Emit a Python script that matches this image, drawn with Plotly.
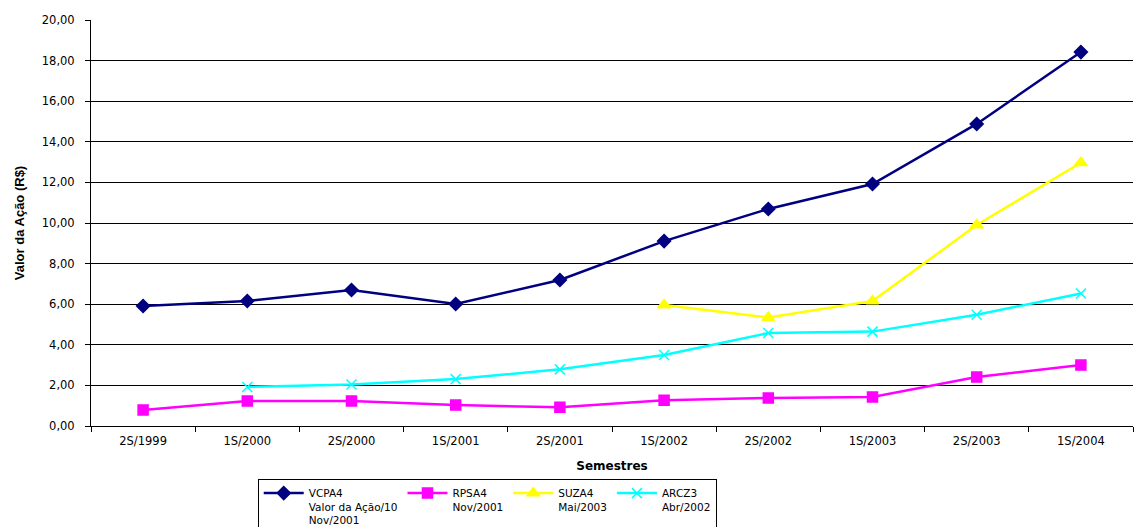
import plotly.graph_objects as go

semestres = ["2S/1999", "1S/2000", "2S/2000", "1S/2001", "2S/2001",
             "1S/2002", "2S/2002", "1S/2003", "2S/2003", "1S/2004"]

vcpa4 = [5.91, 6.16, 6.70, 6.01, 7.19, 9.11, 10.69, 11.92, 14.88, 18.42]
rpsa4 = [0.79, 1.23, 1.23, 1.03, 0.92, 1.27, 1.38, 1.43, 2.41, 3.00]
suza4 = [None, None, None, None, None, 5.96, 5.34, 6.16, 9.90, 12.97]
arcz3 = [None, 1.92, 2.04, 2.31, 2.79, 3.50, 4.58, 4.65, 5.48, 6.53]

series = [
    ("VCPA4<br>Valor da Ação/10<br>Nov/2001", vcpa4, "#000080", "diamond", 10),
    ("RPSA4<br>Nov/2001", rpsa4, "#FF00FF", "square", 10),
    ("SUZA4<br>Mai/2003", suza4, "#FFFF00", "triangle-up", 11),
    ("ARCZ3<br>Abr/2002", arcz3, "#00FFFF", "x-thin-open", 10),
]

wide = "DejaVu Sans, Verdana, sans-serif"
arial = "Liberation Sans, Arial, sans-serif"

fig = go.Figure()
for name, vals, color, symbol, size in series:
    fig.add_trace(go.Scatter(
        x=semestres, y=vals, name=name, mode="lines+markers",
        line=dict(color=color, width=2.5),
        marker=dict(symbol=symbol, size=size, color=color,
                    line=dict(color=color, width=1.5)),
        connectgaps=False,
    ))

fig.update_layout(
    width=1139, height=527,
    margin=dict(l=91, r=6, t=20, b=101, autoexpand=False),
    paper_bgcolor="white", plot_bgcolor="white",
    separators=",.",
    font=dict(family=wide, size=11.5, color="black"),
    showlegend=True,
    legend=dict(
        orientation="h", x=0.16, xanchor="left", y=-0.13, yanchor="top",
        bordercolor="black", borderwidth=1, valign="top",
        font=dict(family=wide, size=10.5, color="black"),
        tracegroupgap=0, itemwidth=40,
    ),
    xaxis=dict(
        type="category", tickson="boundaries", ticks="outside", ticklen=5,
        tickcolor="black", showline=True, linecolor="black", linewidth=1,
        showgrid=False, range=[-0.5, 9.5], ticklabelstandoff=4,
        title=dict(text="<b>Semestres</b>", font=dict(family=wide, size=12), standoff=14),
    ),
    yaxis=dict(
        range=[0, 20], dtick=2, tickformat=".2f", ticks="outside", ticklen=5,
        tickcolor="black", showline=True, linecolor="black", linewidth=1,
        showgrid=True, gridcolor="black", gridwidth=1, zeroline=False,
        ticklabelstandoff=8,
        title=dict(text="<b>Valor da Ação (R$)</b>", font=dict(family=arial, size=13), standoff=14),
    ),
)

fig.write_html("out.html")
